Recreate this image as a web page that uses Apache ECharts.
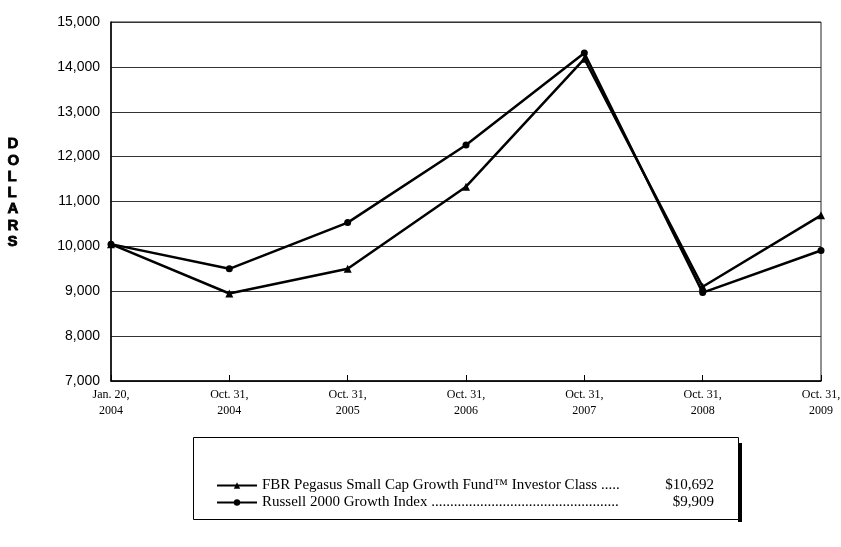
<!DOCTYPE html>
<html>
<head>
<meta charset="utf-8">
<script src="https://cdn.jsdelivr.net/npm/echarts@6/dist/echarts.min.js"></script>
<style>
html,body{margin:0;padding:0;background:#fff;}
#chart{width:841px;height:547px;}
</style>
</head>
<body>
<div id="chart"></div>
<script>
var categories = ["Jan. 20,\n2004","Oct. 31,\n2004","Oct. 31,\n2005","Oct. 31,\n2006","Oct. 31,\n2007","Oct. 31,\n2008","Oct. 31,\n2009"];
var fundName = "FBR Pegasus Small Cap Growth Fund\u2122 Investor Class";
var indexName = "Russell 2000 Growth Index";
var fundValues = [10050, 8950, 9500, 11330, 14180, 9100, 10692];
var indexValues = [10050, 9500, 10530, 12260, 14310, 8970, 9909];
var legendSuffix = {};
legendSuffix[fundName] = {dots: " .....", value: "$10,692"};
legendSuffix[indexName] = {dots: " ..................................................", value: "$9,909"};

var chart = echarts.init(document.getElementById('chart'), null, {renderer: 'canvas'});
var option = {
  animation: false,
  backgroundColor: '#fff',
  grid: {left: 111, right: 20, top: 22, bottom: 166, show: true, borderColor: '#222', borderWidth: 1, outerBoundsMode: 'none', containLabel: false},
  xAxis: {
    type: 'category',
    data: categories,
    boundaryGap: false,
    axisLine: {lineStyle: {color: '#000', width: 1.5}},
    axisTick: {inside: true, length: 6, lineStyle: {color: '#000'}},
    axisLabel: {fontFamily: 'Liberation Serif', fontSize: 12, color: '#000', lineHeight: 16, margin: 6, interval: 0, hideOverlap: false}
  },
  yAxis: {
    type: 'value',
    min: 7000, max: 15000, interval: 1000,
    axisLine: {show: true, lineStyle: {color: '#000', width: 1.5}},
    axisTick: {show: false},
    splitLine: {lineStyle: {color: '#333', width: 1.2}},
    axisLabel: {
      fontFamily: 'Liberation Sans', fontSize: 14, color: '#000', margin: 11,
      formatter: function(v){ return v.toLocaleString('en-US'); }
    }
  },
  legend: {
    orient: 'vertical',
    left: 211, top: 472,
    itemGap: 0,
    itemWidth: 40, itemHeight: 8,
    textStyle: {
      fontFamily: 'Liberation Serif', fontSize: 15, color: '#000', lineHeight: 17,
      rich: {
        n: {fontFamily: 'Liberation Serif', fontSize: 15, color: '#000', lineHeight: 17, width: 399},
        v: {fontFamily: 'Liberation Serif', fontSize: 15, color: '#000', lineHeight: 17, width: 53, align: 'right'}
      }
    },
    formatter: function(name){
      var s = legendSuffix[name];
      return '{n|' + name + s.dots + '}{v|' + s.value + '}';
    },
    data: [fundName, indexName]
  },
  graphic: [
    {type: 'rect', shape: {x: 738, y: 443, width: 4, height: 79}, style: {fill: '#000'}, z: 1},
    {type: 'rect', shape: {x: 193.5, y: 437.5, width: 545, height: 82}, style: {fill: '#fff', stroke: '#000', lineWidth: 1}, z: 2},
    {type: 'text', left: 7, top: 136, z: 3,
      style: {text: 'D\nO\nL\nL\nA\nR\nS', font: 'bold 15px "Liberation Sans"', fontFamily: 'Liberation Sans', fontWeight: 'bold', fontSize: 15, lineHeight: 16.3, fill: '#000', stroke: '#000', lineWidth: 0.8, align: 'center', width: 15}}
  ],
  series: [
    {
      name: fundName, type: 'line', data: fundValues,
      symbol: 'triangle', symbolSize: 8,
      lineStyle: {color: '#000', width: 2.5},
      itemStyle: {color: '#000'},
      z: 5
    },
    {
      name: indexName, type: 'line', data: indexValues,
      symbol: 'circle', symbolSize: 7,
      lineStyle: {color: '#000', width: 2.5},
      itemStyle: {color: '#000'},
      z: 5
    }
  ]
};
chart.setOption(option);
</script>
</body>
</html>
